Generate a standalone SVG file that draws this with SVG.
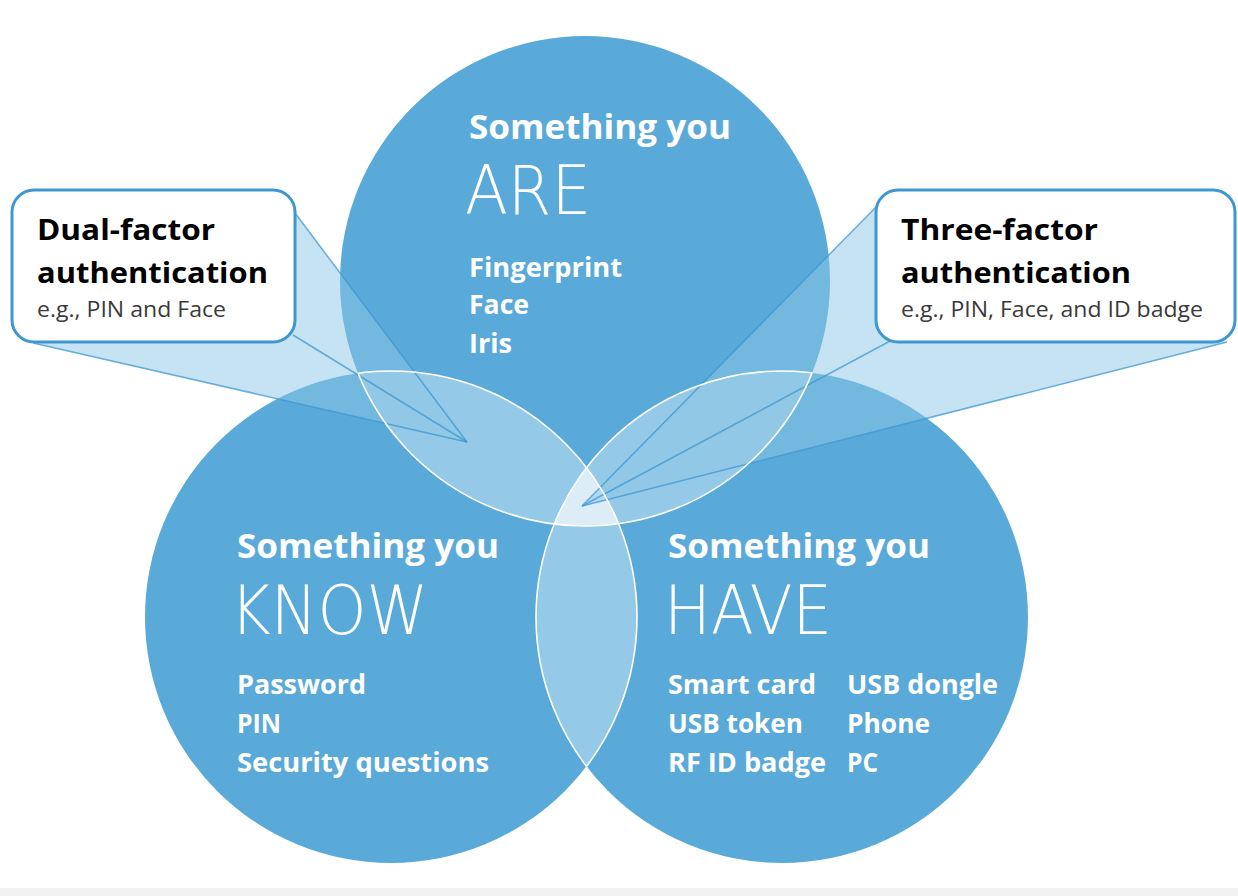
<svg xmlns="http://www.w3.org/2000/svg" width="1238" height="896" viewBox="0 0 1238 896">
  <style>
    .disc { fill: #5aaad9; }
    .lens { fill: #94c9e7; }
    .core { fill: #dcedf8; }
    .seam { fill: none; stroke: #ffffff; stroke-width: 1.6; }
    .beam { fill: #8bc7e5; fill-opacity: 0.5; stroke: none; }
    .ray { stroke: #3f97d2; stroke-opacity: 0.75; stroke-width: 1.5; fill: none; }
    .box { fill: #ffffff; stroke: #3f97d2; stroke-width: 3; }
    .head { font-family: "Open Sans", "Liberation Sans", sans-serif; font-weight: 700; fill: #ffffff; font-size: 34px; }
    .big { font-family: "DejaVu Sans", "Open Sans", sans-serif; font-weight: 200; fill: #ffffff; font-size: 68px; }
    .item { font-family: "Open Sans", "Liberation Sans", sans-serif; font-weight: 700; fill: #ffffff; font-size: 26px; }
    .btitle { font-family: "Open Sans", "Liberation Sans", sans-serif; font-weight: 700; fill: #000000; font-size: 29px; }
    .bsub { font-family: "Open Sans", "Liberation Sans", sans-serif; font-weight: 400; fill: #3a3a3a; font-size: 22px; }
  </style>
  <defs>
    <clipPath id="inTop"><circle cx="585" cy="281" r="245"/></clipPath>
    <clipPath id="inLeft"><circle cx="391" cy="617" r="246"/></clipPath>
    <clipPath id="inRight"><circle cx="782" cy="617" r="246"/></clipPath>
    <clipPath id="inLeftOrRight"><circle cx="391" cy="617" r="246"/><circle cx="782" cy="617" r="246"/></clipPath>
    <clipPath id="inTopOrRight"><circle cx="585" cy="281" r="245"/><circle cx="782" cy="617" r="246"/></clipPath>
    <clipPath id="inTopOrLeft"><circle cx="585" cy="281" r="245"/><circle cx="391" cy="617" r="246"/></clipPath>
  </defs>

  <rect x="0" y="0" width="1238" height="896" fill="#ffffff"/>
  <rect x="0" y="888" width="1238" height="8" fill="#f2f2f2"/>

  <!-- three sets -->
  <g id="set-are"><circle class="disc" cx="585" cy="281" r="245"/></g>
  <g id="set-know"><circle class="disc" cx="391" cy="617" r="246"/></g>
  <g id="set-have"><circle class="disc" cx="782" cy="617" r="246"/></g>

  <!-- pairwise and triple overlaps -->
  <g id="overlaps">
    <circle class="lens" cx="391" cy="617" r="246" clip-path="url(#inTop)"/>
    <circle class="lens" cx="782" cy="617" r="246" clip-path="url(#inTop)"/>
    <circle class="lens" cx="391" cy="617" r="246" clip-path="url(#inRight)"/>
    <g clip-path="url(#inTop)">
      <circle class="core" cx="391" cy="617" r="246" clip-path="url(#inRight)"/>
    </g>
  </g>

  <!-- callout beams -->
  <g id="connectors">
    <polygon class="beam" points="295,213 467,442 33,343"/>
    <line class="ray" x1="295" y1="213" x2="467" y2="442"/>
    <line class="ray" x1="293" y1="335" x2="467" y2="442"/>
    <line class="ray" x1="33" y1="343" x2="467" y2="442"/>

    <polygon class="beam" points="878,205 1227,342 582,506"/>
    <line class="ray" x1="878" y1="205" x2="582" y2="506"/>
    <line class="ray" x1="892" y1="340" x2="582" y2="506"/>
    <line class="ray" x1="1227" y1="342" x2="582" y2="506"/>
  </g>

  <!-- white seams along overlap borders -->
  <g id="seams">
    <circle class="seam" cx="585" cy="281" r="245" clip-path="url(#inLeftOrRight)"/>
    <circle class="seam" cx="391" cy="617" r="246" clip-path="url(#inTopOrRight)"/>
    <circle class="seam" cx="782" cy="617" r="246" clip-path="url(#inTopOrLeft)"/>
  </g>

  <g id="label-are">
    <text class="head" x="469" y="139" textLength="262" lengthAdjust="spacingAndGlyphs">Something you</text>
    <text class="big" x="465" y="214" textLength="126" lengthAdjust="spacingAndGlyphs">ARE</text>
    <text class="item" x="469" y="277" textLength="153" lengthAdjust="spacingAndGlyphs">Fingerprint</text>
    <text class="item" x="469" y="314" textLength="60" lengthAdjust="spacingAndGlyphs">Face</text>
    <text class="item" x="469" y="353" textLength="43" lengthAdjust="spacingAndGlyphs">Iris</text>
  </g>

  <g id="label-know">
    <text class="head" x="237" y="558" textLength="262" lengthAdjust="spacingAndGlyphs">Something you</text>
    <text class="big" x="230" y="634" textLength="198" lengthAdjust="spacingAndGlyphs">KNOW</text>
    <text class="item" x="237" y="694" textLength="129" lengthAdjust="spacingAndGlyphs">Password</text>
    <text class="item" x="237" y="733" textLength="44" lengthAdjust="spacingAndGlyphs">PIN</text>
    <text class="item" x="237" y="772" textLength="252" lengthAdjust="spacingAndGlyphs">Security questions</text>
  </g>

  <g id="label-have">
    <text class="head" x="668" y="558" textLength="262" lengthAdjust="spacingAndGlyphs">Something you</text>
    <text class="big" x="664" y="634" textLength="168" lengthAdjust="spacingAndGlyphs">HAVE</text>
    <text class="item" x="668" y="694" textLength="148" lengthAdjust="spacingAndGlyphs">Smart card</text>
    <text class="item" x="668" y="733" textLength="135" lengthAdjust="spacingAndGlyphs">USB token</text>
    <text class="item" x="668" y="772" textLength="158" lengthAdjust="spacingAndGlyphs">RF ID badge</text>
    <text class="item" x="847" y="694" textLength="151" lengthAdjust="spacingAndGlyphs">USB dongle</text>
    <text class="item" x="847" y="733" textLength="83" lengthAdjust="spacingAndGlyphs">Phone</text>
    <text class="item" x="847" y="772" textLength="31" lengthAdjust="spacingAndGlyphs">PC</text>
  </g>

  <g id="callout-dual">
    <rect class="box" x="12" y="190" width="283" height="152" rx="22"/>
    <text class="btitle" x="37" y="240" textLength="178" lengthAdjust="spacingAndGlyphs">Dual-factor</text>
    <text class="btitle" x="37" y="283" textLength="231" lengthAdjust="spacingAndGlyphs">authentication</text>
    <text class="bsub" x="37" y="317" textLength="189" lengthAdjust="spacingAndGlyphs">e.g., PIN and Face</text>
  </g>

  <g id="callout-three">
    <rect class="box" x="876" y="190" width="359" height="152" rx="22"/>
    <text class="btitle" x="901" y="240" textLength="197" lengthAdjust="spacingAndGlyphs">Three-factor</text>
    <text class="btitle" x="901" y="283" textLength="230" lengthAdjust="spacingAndGlyphs">authentication</text>
    <text class="bsub" x="901" y="317" textLength="302" lengthAdjust="spacingAndGlyphs">e.g., PIN, Face, and ID badge</text>
  </g>
</svg>
